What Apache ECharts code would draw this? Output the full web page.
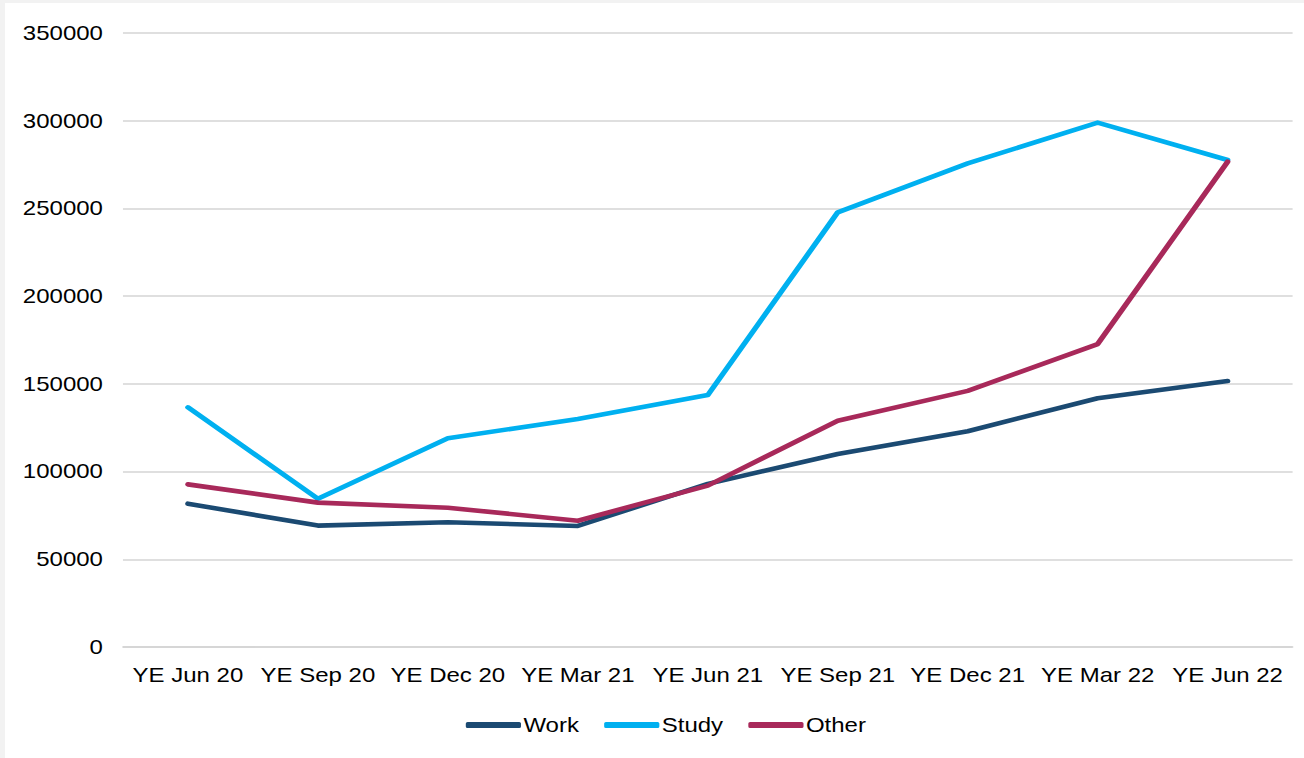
<!DOCTYPE html>
<html>
<head>
<meta charset="utf-8">
<script src="https://cdn.jsdelivr.net/npm/echarts@6/dist/echarts.min.js"></script>
<style>
html,body{margin:0;padding:0;background:#f2f2f2;width:1304px;height:758px;overflow:hidden;}
#wrap{position:absolute;left:5px;top:3px;width:1299px;height:755px;background:#ffffff;overflow:hidden;}
#chart{position:absolute;left:0;top:0;width:1082.5px;height:755px;transform:scaleX(1.2);transform-origin:0 0;}
</style>
</head>
<body>
<div id="wrap"><div id="chart"></div></div>
<script>
const categories = ['YE Jun 20','YE Sep 20','YE Dec 20','YE Mar 21','YE Jun 21','YE Sep 21','YE Dec 21','YE Mar 22','YE Jun 22'];
const work  = [81700, 69200, 71100, 69000, 93000, 110000, 123000, 141800, 151600];
const study = [136600, 84500, 119000, 130000, 143600, 247800, 275700, 298900, 277600];
const other = [92700, 82300, 79400, 72000, 92000, 129000, 146000, 172700, 276600];
const seriesNames = ['Work','Study','Other'];
const colors = ['#1b4a72','#00b0f0','#a8295a'];

const chart = echarts.init(document.getElementById('chart'), null, {renderer:'svg'});
const font = '"Liberation Sans", Arial, sans-serif';
const mk = (name, data, color) => ({
  name, type:'line', data, symbol:'none', smooth:false,
  lineStyle:{width:4.6, color, cap:'round', join:'round'},
  itemStyle:{color}
});
chart.setOption({
  animation:false,
  textStyle:{fontFamily:font},
  grid:{left:98.3, right:10, top:30, bottom:111, containLabel:false},
  legend:{
    data:seriesNames, bottom:18, left:379,
    icon:'roundRect', itemWidth:46, itemHeight:6, itemGap:21,
    textStyle:{fontFamily:font, fontSize:20, color:'#000', padding:[0,0,0,-3]}
  },
  xAxis:{
    type:'category', data:categories, boundaryGap:true,
    axisLine:{lineStyle:{color:'#d4d4d4', width:1.5}},
    axisTick:{show:false},
    axisLabel:{fontFamily:font, fontSize:20, color:'#000', margin:18, interval:0}
  },
  yAxis:{
    type:'value', min:0, max:350000, interval:50000,
    axisLine:{show:false}, axisTick:{show:false},
    splitLine:{lineStyle:{color:'#d4d4d4', width:1.5}},
    axisLabel:{fontFamily:font, fontSize:20, color:'#000', margin:16.7, formatter:v => String(v)}
  },
  series:[mk(seriesNames[0], work, colors[0]), mk(seriesNames[1], study, colors[1]), mk(seriesNames[2], other, colors[2])]
});
</script>
</body>
</html>
